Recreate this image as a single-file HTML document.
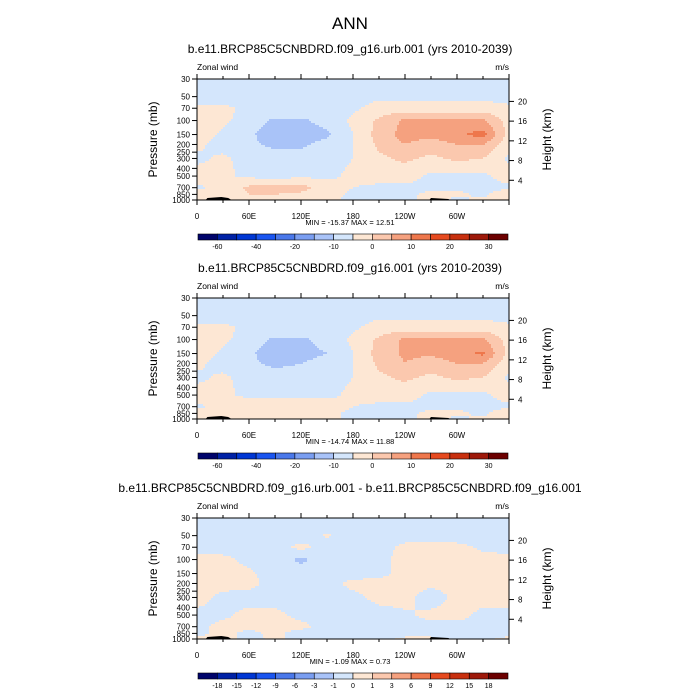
<!DOCTYPE html>
<html><head><meta charset="utf-8"><style>
body{margin:0;background:#fff}
svg{display:block;font-family:"Liberation Sans",sans-serif}
</style></head><body>
<svg id="chart" width="700" height="700" viewBox="0 0 700 700">
<text x="350" y="29" text-anchor="middle" font-size="17">ANN</text>
</svg>
<script>
const lons=[0,30,60,90,120,150,180,210,240,270,300,330,360];
const plevs=[30,50,70,100,150,200,300,500,700,850,1000];
const xTickLabels=["0","60E","120E","180","120W","60W"];
const yTickLabels=[30,50,70,100,150,200,250,300,400,500,700,850,1000];
const heightTicks=[4,8,12,16,20];
const levels1=[-60,-50,-40,-30,-20,-15,-10,-5,0,5,10,15,20,25,30];
const levelLabels1=["-60","","-40","","-20","","-10","","0","","10","","20","","30"];
const levels3=[-18,-15,-12,-9,-6,-3,-1,0,1,3,6,9,12,15,18];
const levelLabels3=["-18","-15","-12","-9","-6","-3","-1","0","1","3","6","9","12","15","18"];
const colors=["#00046b","#0022a6","#0037d4","#1a55f0","#4a78ea","#7a9ef1","#a9c3f8","#d4e6fc","#fde7d4","#fbc8ae","#f5a17f","#ee774c","#e64a1f","#c8300f","#9e190a","#6c0000"];
const titles=["b.e11.BRCP85C5CNBDRD.f09_g16.urb.001 (yrs 2010-2039)","b.e11.BRCP85C5CNBDRD.f09_g16.001 (yrs 2010-2039)","b.e11.BRCP85C5CNBDRD.f09_g16.urb.001 - b.e11.BRCP85C5CNBDRD.f09_g16.001"];
const minmax=["MIN = -15.37  MAX =  12.51","MIN = -14.74  MAX =  11.88","MIN = -1.09  MAX =  0.73"];
const field1=[
[-7,-7,-7,-7,-7,-7,-7,-7,-7,-7,-7,-7,-7],
[-7,-7,-7,-7,-7,-7,-7,-6,-6,-6,-6,-6,-7],
[-4,-4,-6,-6,-6,-6,-6,-3,-3,-3,-3,-3,-4],
[-2,-4,-7,-11,-11,-8,-4,1,6,6,6,6,-2],
[-2,-6,-9,-13,-13,-11,-5,2,7,7,9,12,-2],
[-4,-7,-9,-11,-11,-8,-5,1,5,2,5,5,-3],
[-6,-4,-7,-8,-8,-7,-5,-1,1,-1,1,0,-6],
[-3,-4,-6,-7,-6,-6,-4,-3,-3,-6,-6,-6,-3],
[-6,-3,1,2,2,-3,-5,-6,-6,-6,-6,-6,-6],
[-2,-4,0,0,-1,-3,-6,-7,-6,-4,-4,-6,-2],
[-3,-4,-4,-4,-4,-4,-6,-7,-6,-4,-6,-4,-3]];
const field2=[
[-7,-7,-7,-7,-7,-7,-7,-7,-7,-7,-7,-7,-7],
[-7,-7,-7,-7,-7,-7,-7,-6,-6,-6,-6,-6,-7],
[-4,-4,-6,-6,-6,-6,-6,-3,-3,-3,-3,-3,-4],
[-2,-4,-7,-11,-11,-8,-4,1,6,6,6,6,-2],
[-2,-6,-9,-13,-12,-10,-5,2,6,6,8,11,-2],
[-4,-7,-9,-11,-10,-8,-5,1,5,2,5,5,-3],
[-6,-4,-7,-8,-8,-7,-5,-1,1,-1,1,0,-6],
[-3,-4,-6,-7,-6,-6,-4,-3,-3,-6,-6,-6,-3],
[-6,-3,-2,-1,-1,-3,-5,-6,-6,-6,-6,-6,-6],
[-2,-4,-2,-2,-2,-4,-6,-7,-6,-4,-4,-6,-2],
[-3,-4,-4,-4,-4,-4,-6,-7,-6,-4,-6,-4,-3]];
const field3=[
[-0.5,-0.5,-0.5,-0.5,-0.5,-0.5,-0.5,-0.5,-0.5,-0.5,-0.5,-0.5,-0.5],
[-0.5,-0.5,-0.5,-0.5,-0.5,0.1,-0.5,-0.5,-0.5,-0.5,-0.5,-0.5,-0.5],
[-0.5,-0.5,-0.5,-0.5,0.3,-0.5,-0.5,-0.5,0.3,0.4,0.3,-0.2,-0.5],
[0.4,0.3,-0.3,-0.5,-1.2,-0.5,-0.5,-0.3,0.4,0.5,0.5,0.4,0.4],
[0.4,0.4,0.2,-0.5,-0.5,-0.5,-0.5,-0.3,0.3,0.5,0.5,0.5,0.4],
[0.4,0.4,0.3,-0.4,-0.5,-0.4,0.3,0.4,0.4,0.3,0.4,0.5,0.4],
[0.4,-0.3,-0.4,-0.5,-0.5,-0.5,-0.3,0.3,0.4,-0.6,0.3,0.4,0.4],
[-0.3,-0.2,0.3,0.3,-0.3,-0.5,-0.5,-0.4,-0.2,0.3,0.4,-0.3,-0.3],
[-0.3,0.3,0.3,0.4,0.3,-0.4,-0.5,-0.5,-0.5,-0.3,-0.4,-0.4,-0.3],
[-0.3,0.3,-0.3,0.3,-0.5,-0.5,-0.5,-0.5,-0.5,-0.5,-0.5,-0.5,-0.3],
[0.2,0.3,-0.3,0.2,-0.3,-0.5,-0.5,-0.5,0.3,0.3,-0.3,-0.3,0.3]];
const fields=[field1,field2,field3];
const levelSets=[levels1,levels1,levels3];
const labelSets=[levelLabels1,levelLabels1,levelLabels3];

const NS="http://www.w3.org/2000/svg";
const svg=document.getElementById('chart');
const X0=197,X1=509,PH=121;
function mk(tag,attrs,parent){const e=document.createElementNS(NS,tag);for(const k in attrs)e.setAttribute(k,attrs[k]);(parent||svg).appendChild(e);return e;}
function xScale(lon){return X0+(lon/360)*(X1-X0);}
function yScale(p,top){return top+PH*Math.log(p/30)/Math.log(1000/30);}
function lonAt(px){return (px-X0)/(X1-X0)*360;}
function lpAt(py,top){return Math.log(30)+(py-top)/PH*Math.log(1000/30);}
function sample(f,lon,lp){
  let i=Math.min(lons.length-2,Math.max(0,Math.floor(lon/30)));let tx=(lon-lons[i])/30;
  const lps=plevs.map(Math.log);let j=0;while(j<lps.length-2&&lp>lps[j+1])j++;
  let ty=(lp-lps[j])/(lps[j+1]-lps[j]);ty=Math.max(0,Math.min(1,ty));tx=Math.max(0,Math.min(1,tx));
  const a=f[j][i],b=f[j][i+1],c=f[j+1][i],d=f[j+1][i+1];
  return (a*(1-tx)+b*tx)*(1-ty)+(c*(1-tx)+d*tx)*ty;}
function colorIdx(v,lv){let k=0;while(k<lv.length&&v>=lv[k])k++;return k;}

for(let p=0;p<3;p++){
  const top=79+[0,219,439][p];
  const g=mk('g',{});
  
  
  const st=mk('text',{x:350,y:top-26,'text-anchor':'middle','font-size':12},g);st.textContent=titles[p];
  
  
  const zl=mk('text',{x:197,y:top-9,'font-size':8.5},g);zl.textContent='Zonal wind';
  
  
  const ul=mk('text',{x:509,y:top-9,'font-size':8.5,'text-anchor':'end'},g);ul.textContent='m/s';
  
  
  const fg=mk('g',{'shape-rendering':'crispEdges'},g);
  
  
  const cell=2;
  for(let py=top;py<top+PH;py+=cell){
    const lp=lpAt(py+cell/2,top);let runStart=X0,runC=null;
    for(let px=X0;px<=X1;px+=cell){
      let c=null;
      if(px<X1){c=colorIdx(sample(fields[p],lonAt(px+cell/2),lp),levelSets[p]);}
      if(c!==runC){
        if(runC!==null){const r=mk('rect',{x:runStart,y:py,width:Math.min(px,X1)-runStart,height:Math.min(cell,top+PH-py),fill:colors[runC]},fg);
          
          }
        runStart=px;runC=c;}
    }
  }
  const t1=mk('path',{d:`M${xScale(10)} ${top+PH} L${xScale(12)} ${top+PH-2} L${xScale(28)} ${top+PH-3} L${xScale(36)} ${top+PH-2} L${xScale(40)} ${top+PH} Z`,fill:'#000'},g);
  
  
  const t2=mk('path',{d:`M${xScale(268)} ${top+PH} L${xScale(270)} ${top+PH-2} L${xScale(290)} ${top+PH-1} L${xScale(292)} ${top+PH} Z`,fill:'#000'},g);
  
  
  const fr=mk('rect',{x:X0,y:top,width:X1-X0,height:PH,fill:'none',stroke:'#000','stroke-width':1},g);
  
  
  for(let lon=0;lon<=360;lon+=30){
    const x=xScale(lon),major=lon%60===0,L=major?5:3;
    mk('line',{x1:x,x2:x,y1:top+PH,y2:top+PH+L,stroke:'#000'},g);
    mk('line',{x1:x,x2:x,y1:top,y2:top-L,stroke:'#000'},g);
    if(major&&lon<360){const tl=mk('text',{x:x,y:top+PH+19,'font-size':8,'text-anchor':'middle'},g);tl.textContent=xTickLabels[lon/60];
      
      }
  }
  yTickLabels.forEach(pv=>{const y=yScale(pv,top);mk('line',{x1:X0,x2:X0-5,y1:y,y2:y,stroke:'#000'},g);
    const tl=mk('text',{x:190,y:y+3,'font-size':8,'text-anchor':'end'},g);tl.textContent=pv;
    
    });
  heightTicks.forEach(h=>{const y=yScale(1000*Math.exp(-h/7),top);mk('line',{x1:X1,x2:X1+5,y1:y,y2:y,stroke:'#000'},g);
    const tl=mk('text',{x:518,y:y+3,'font-size':8},g);tl.textContent=h;
    
    });
  const yt=mk('text',{transform:`translate(157,${top+PH/2}) rotate(-90)`,'text-anchor':'middle','font-size':12},g);yt.textContent='Pressure (mb)';
  
  
  const yt2=mk('text',{transform:`translate(551,${top+PH/2}) rotate(-90)`,'text-anchor':'middle','font-size':12},g);yt2.textContent='Height (km)';
  
  
  const mm=mk('text',{x:350,y:top+PH+25,'font-size':7.5,'text-anchor':'middle'},g);mm.textContent=minmax[p];
  
  
  const cb=mk('g',{},g);
  
  
  const cy=top+155,bw=(508-198)/16;
  for(let k=0;k<16;k++){const r=mk('rect',{x:198+k*bw,y:cy,width:bw,height:6,fill:colors[k],stroke:'#000','stroke-width':0.6},cb);
    
    }
  labelSets[p].forEach((lab,k)=>{if(!lab)return;const tl=mk('text',{x:198+(k+1)*bw,y:cy+15,'font-size':7,'text-anchor':'middle'},cb);tl.textContent=lab;
    
    });
}
</script>
</body></html>
